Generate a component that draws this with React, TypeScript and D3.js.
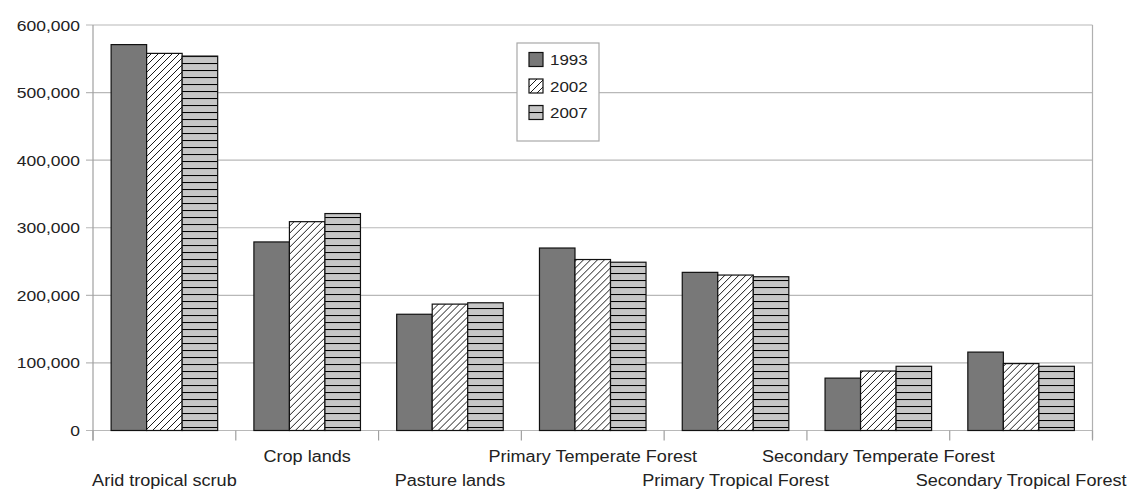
import React from "react";
import * as d3 from "d3";

const categories = [
  "Arid tropical scrub",
  "Crop lands",
  "Pasture lands",
  "Primary Temperate Forest",
  "Primary Tropical Forest",
  "Secondary Temperate Forest",
  "Secondary Tropical Forest",
];
const years = ["1993", "2002", "2007"];
const values1993 = [571000, 279000, 172000, 270000, 234000, 77500, 116000];
const values2002 = [558000, 309000, 187000, 253000, 230000, 88000, 99000];
const values2007 = [554000, 321000, 189000, 249000, 227500, 95000, 95000];
const seriesValues = [values1993, values2002, values2007];
const yTicks = [0, 100000, 200000, 300000, 400000, 500000, 600000];

const W = 1129;
const H = 490;
const left = 93;
const right = 1092.5;
const top = 25;
const bottom = 430.5;
const SX = 1.13;
const FONT = "'Liberation Sans', Arial, sans-serif";

const fills = ["#787878", "url(#hatch)", "url(#hlines)"];

export default function App() {
  const x = d3.scaleBand<string>().domain(categories).range([left, right]).paddingInner(0).paddingOuter(0);
  const xi = d3.scaleBand<string>().domain(years).range([0, x.bandwidth()]).paddingInner(0).paddingOuter(0.51);
  const y = d3.scaleLinear().domain([0, 600000]).range([bottom, top]);
  const fmt = d3.format(",");
  const boundaries = categories.map((c) => x(c) as number).concat([right]);

  return (
    <svg width={W} height={H} style={{ position: "absolute", left: 0, top: 0, background: "#fff" }}>
      <defs>
        <pattern id="hatch" patternUnits="userSpaceOnUse" width="7" height="7">
          <rect width="7" height="7" fill="#fff" />
          <path d="M0,7 L7,0 M-1,1 L1,-1 M6,8 L8,6" stroke="#000" strokeWidth="0.9" />
        </pattern>
        <pattern id="hlines" patternUnits="userSpaceOnUse" width="7" height="7">
          <rect width="7" height="7" fill="#c6c6c6" />
          <line x1="0" x2="7" y1="0.5" y2="0.5" stroke="#000" strokeWidth="1.1" />
        </pattern>
      </defs>

      {/* gridlines */}
      {yTicks.map((t) => (
        <line key={t} x1={left - 7} x2={right} y1={y(t)} y2={y(t)} stroke="#b8b8b8" strokeWidth={1.2} />
      ))}
      {/* frame */}
      <line x1={left} x2={left} y1={top} y2={bottom + 10} stroke="#a0a0a0" strokeWidth={1.2} />
      <line x1={right} x2={right} y1={top} y2={bottom + 8} stroke="#b0b0b0" strokeWidth={1.2} />
      {boundaries.map((b, i) => (
        <line key={i} x1={b} x2={b} y1={bottom} y2={bottom + 10} stroke="#a0a0a0" strokeWidth={1.2} />
      ))}

      {/* y labels */}
      {yTicks.map((t) => (
        <text
          key={t}
          transform={`translate(80,${y(t) + 5.5}) scale(${SX},1)`}
          textAnchor="end"
          fontFamily={FONT}
          fontSize={15.5}
          fill="#222"
        >
          {fmt(t)}
        </text>
      ))}

      {/* bars */}
      {categories.map((c, ci) => (
        <g key={c} transform={`translate(${x(c)},0)`}>
          {years.map((yr, si) => {
            const v = seriesValues[si][ci];
            return (
              <rect
                key={yr}
                x={xi(yr)}
                y={y(v)}
                width={xi.bandwidth()}
                height={bottom - y(v)}
                fill={fills[si]}
                stroke="#111"
                strokeWidth={1.2}
              />
            );
          })}
        </g>
      ))}

      {/* x labels */}
      {categories.map((c, ci) => (
        <text
          key={c}
          transform={`translate(${(x(c) as number) + x.bandwidth() / 2},${ci % 2 === 0 ? 486 : 462}) scale(${SX},1)`}
          textAnchor="middle"
          fontFamily={FONT}
          fontSize={16}
          fill="#222"
        >
          {c}
        </text>
      ))}

      {/* legend */}
      <rect x={517} y={43} width={82} height={98} fill="#fff" stroke="#a8a8a8" strokeWidth={1.2} />
      {years.map((yr, si) => {
        const cy = 59.5 + si * 26.5;
        return (
          <g key={yr}>
            <rect x={529} y={cy - 7} width={14} height={14} fill={fills[si]} stroke="#111" strokeWidth={1.2} />
            <text
              transform={`translate(550,${cy + 5.5}) scale(${SX},1)`}
              fontFamily={FONT}
              fontSize={15}
              fill="#222"
            >
              {yr}
            </text>
          </g>
        );
      })}
    </svg>
  );
}
